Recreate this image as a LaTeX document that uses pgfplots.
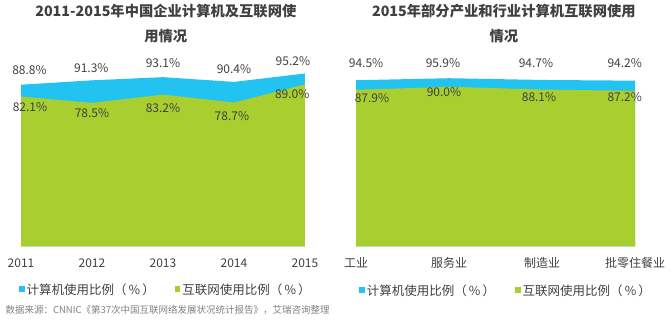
\documentclass[border=0pt]{standalone}
\usepackage{pgfplots}
\pgfplotsset{compat=1.18}
\usepackage{fontspec}
\setmainfont{Noto Sans CJK SC}
\definecolor{cy}{HTML}{22C3F0}
\definecolor{gr}{HTML}{A9CE2F}
\definecolor{tx}{HTML}{404040}
\definecolor{src}{HTML}{808080}
\pgfplotsset{
  mystyle/.style={
    scale only axis, anchor=south west, clip=false,
    axis line style={draw=none}, major tick length=0pt, ytick=\empty,
    xticklabel style={anchor=center, yshift=-16.5pt, font=\fontsize{12}{14}\selectfont, text=tx},
    title style={align=center, anchor=center, yshift=35.5pt, font=\fontsize{14.3}{25}\selectfont\bfseries, text=tx},
    legend style={draw=none, fill=none, legend columns=2, font=\fontsize{12.5}{14}\selectfont, text=tx,
      /tikz/every even column/.append style={column sep=18pt}},
    legend image code/.code={\fill[##1] (0pt,-2pt) rectangle (5.6pt,3.6pt);},
  },
  lab/.style={draw=none, forget plot, point meta=explicit,
    nodes near coords={\pgfmathprintnumber[fixed,fixed zerofill,precision=1,assume math mode=true]{\pgfplotspointmeta}\%},
    nodes near coords style={anchor=center, font=\fontsize{12}{14}\selectfont, text=tx}},
}
\begin{document}
\begin{tikzpicture}
\path[use as bounding box] (0,0) rectangle (670pt,323pt);
% Left chart
\begin{axis}[mystyle, at={(21pt,76.5pt)}, width=284pt, height=181.5pt,
  xmin=0, xmax=4, ymin=-3, ymax=100,
  xtick={0,1,2,3,4}, xticklabels={2011,2012,2013,2014,2015},
  title={2011-2015年中国企业计算机及互联网使\\用情况},
  title style={at={(0.51,1)}},
  legend style={at={(0.51,-0.24)}, anchor=center}]
\addplot[draw=none, fill=cy] coordinates {(0,-3) (0,88.8) (1,91.3) (2,93.1) (3,90.4) (4,95.2) (4,-3)} -- cycle;
\addlegendentry{计算机使用比例（\,\%\,）}
\addplot[draw=none, fill=gr] coordinates {(0,-3) (0,82.1) (1,78.5) (2,83.2) (3,78.7) (4,89.0) (4,-3)} -- cycle;
\addlegendentry{互联网使用比例（\,\%\,）}
\addplot[lab] table[meta=v] {
x y v
0.12 97.2 88.8
0.99 98.3 91.3
2.0 101.1 93.1
3.0 97.7 90.4
3.83 102.3 95.2
};
\addplot[lab] table[meta=v] {
x y v
0.127 76.1 82.1
1.0 72.8 78.5
2.0 75.6 83.2
2.97 71.0 78.7
3.82 83.5 89.0
};
\end{axis}
% Right chart
\begin{axis}[mystyle, at={(356pt,76.5pt)}, width=279pt, height=181.5pt,
  xmin=0, xmax=3, ymin=-20, ymax=105,
  xtick={0,1,2,3}, xticklabels={工业,服务业,制造业,批零住餐业},
  title={2015年部分产业和行业计算机互联网使用\\情况},
  title style={at={(0.53,1)}},
  legend style={at={(0.538,-0.245)}, anchor=center}]
\addplot[draw=none, fill=cy] coordinates {(0,-20) (0,94.5) (1,95.9) (2,94.7) (3,94.2) (3,-20)} -- cycle;
\addlegendentry{计算机使用比例（\,\%\,）}
\addplot[draw=none, fill=gr] coordinates {(0,-20) (0,87.9) (1,90.0) (2,88.1) (3,87.2) (3,-20)} -- cycle;
\addlegendentry{互联网使用比例（\,\%\,）}
\addplot[lab] table[meta=v] {
x y v
0.108 106.4 94.5
0.935 106.4 95.9
1.935 106.4 94.7
2.89 106.4 94.2
};
\addplot[lab] table[meta=v] {
x y v
0.172 82.3 87.9
0.946 86.4 90.0
1.968 83.0 88.1
2.89 83.0 87.2
};
\end{axis}
\node[anchor=west, font=\fontsize{9.5}{11}\selectfont, text=src] at (2pt,13pt) {数据来源：CNNIC《第37次中国互联网络发展状况统计报告》，艾瑞咨询整理};
\end{tikzpicture}
\end{document}
